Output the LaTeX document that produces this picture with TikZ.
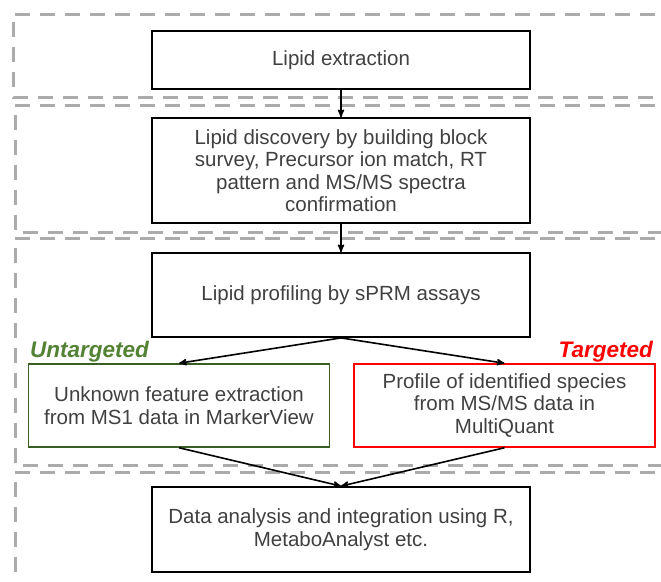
\documentclass[tikz,border=0pt]{standalone}
\usepackage{fontspec}
\setmainfont{Liberation Sans}
\usetikzlibrary{arrows}

\definecolor{boxtext}{HTML}{404040}
\definecolor{stagegray}{HTML}{ABABAB}
\definecolor{untgreen}{HTML}{548235}
\definecolor{untframe}{HTML}{3A5F24}

\begin{document}
\begin{tikzpicture}[x=1pt,y=-1pt,>=stealth',
    main box/.style={draw,line width=1.8pt,align=center,text=boxtext,
        font=\fontsize{20.5}{22.5}\selectfont,minimum width=378pt,inner sep=0pt},
    side box/.style={main box,line width=1.5pt,minimum width=301pt,minimum height=83pt},
    stage/.style={draw=stagegray,line width=3pt,dash pattern=on 15pt off 10pt},
    tag/.style={font=\fontsize{22.5}{24}\selectfont\bfseries\itshape},
    link/.style={->,line width=1.6pt}]
    \useasboundingbox (0,0) rectangle (661,581);
    % dashed stage frames, open to the right
    \draw[stage] (680,14) -- (13,14) -- (13,97) -- (680,97);
    \draw[stage] (680,105) -- (15,105) -- (15,232) -- (680,232);
    \draw[stage] (680,238) -- (15,238) -- (15,465) -- (680,465);
    \draw[stage] (680,472) -- (15,472) -- (15,600);
    % workflow boxes
    \node[main box,minimum height=58pt] (1) at (341,60) {Lipid extraction};
    \node[main box,minimum height=105pt] (2) at (341,170.5)
        {Lipid discovery by building block\\survey, Precursor ion match, RT\\pattern and MS/MS spectra\\confirmation};
    \node[main box,minimum height=84pt] (3) at (341,295) {Lipid profiling by sPRM assays};
    \node[side box,draw=untframe] (4) at (179,405.5)
        {Unknown feature extraction\\from MS1 data in MarkerView};
    \node[side box,draw=red] (5) at (504.5,405.5)
        {Profile of identified species\\from MS/MS data in\\MultiQuant};
    \node[main box,minimum height=85pt] (6) at (341,529.5)
        {Data analysis and integration using R,\\MetaboAnalyst etc.};
    \node[tag,text=untgreen,anchor=base west,inner sep=0pt] (u) at (30,357) {Untargeted};
    \node[tag,text=red,anchor=base east,inner sep=0pt] (t) at (653,357) {Targeted};
    % arrows
    \draw[link] (1) -- (2);
    \draw[link] (2) -- (3);
    \draw[link] (3.south) -- (4.north);
    \draw[link] (3.south) -- (5.north);
    \draw[link] (4.south) -- (6.north);
    \draw[link] (5.south) -- (6.north);
\end{tikzpicture}
\end{document}
